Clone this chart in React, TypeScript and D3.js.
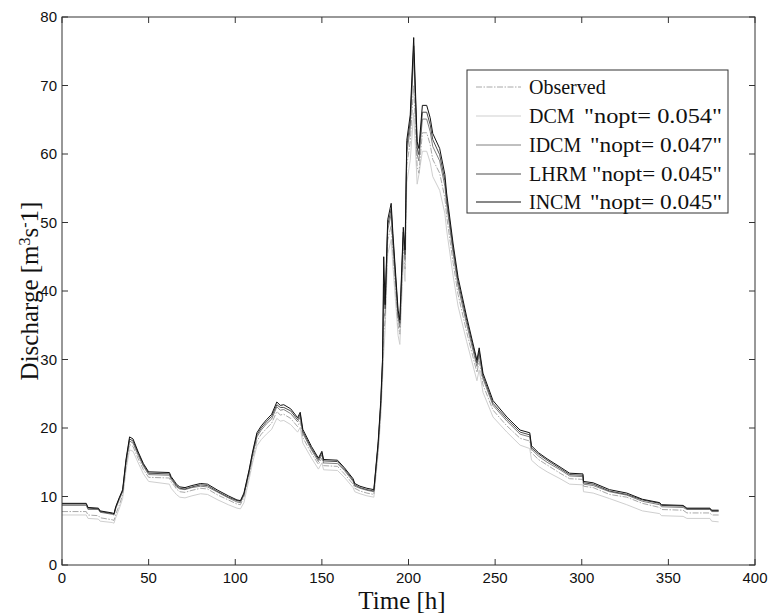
import React from "react";
import * as d3 from "d3";

const hours = [0,14,15,21,22,29,30,31,33,35,37,39,41,44,47,50,62,63,65,66,68,71,75,80,84,90,96,101,103,105,108,110,112.5,115,118,121,124,126,128,132,136,137.5,139,144,148,150,151,159,163,168,169,172,176,180,182.5,184,185,185.7,186.5,188,190,191,194,195,197,198,199,201,203,205,206,208,210.5,212.5,214,218,221,222,225.7,228.6,233.6,239.5,240.8,243,248.8,256.8,264.4,270,271,275,280,287.5,293,300.7,301,306.6,316,326,335,345,346,358.5,360.7,374,375,379];

const incm = [9.0,9.0,8.4,8.3,7.9,7.6,7.5,8.5,9.8,11.0,15.5,18.7,18.4,16.5,14.8,13.6,13.5,12.9,12.2,11.8,11.4,11.3,11.6,11.9,11.8,10.9,10.1,9.5,9.4,10.5,13.9,16.5,19.3,20.3,21.2,22.0,23.8,23.3,23.4,22.8,21.5,22.3,19.8,17.3,15.6,16.6,15.4,15.3,14.2,12.6,11.9,11.5,11.2,11.0,18.0,24.0,30.0,45.0,38.0,50.4,52.8,48.4,37.2,35.8,49.3,46.0,62.0,65.7,77.0,61.8,60.8,67.1,67.1,65.3,63.0,60.8,57.0,54.3,47.0,42.0,36.2,29.9,31.7,28.0,24.0,21.6,19.7,19.3,17.4,16.4,15.5,14.3,13.4,13.3,12.2,12.0,11.0,10.5,9.6,9.1,8.8,8.7,8.3,8.3,8.0,8.0];

const lhrm = [8.9,8.9,8.3,8.2,7.8,7.5,7.4,8.4,9.7,10.8,15.3,18.4,18.1,16.3,14.6,13.4,13.3,12.7,12.0,11.6,11.2,11.1,11.4,11.7,11.6,10.7,9.9,9.4,9.3,10.3,13.7,16.3,19.0,20.0,20.9,21.7,23.4,23.0,23.0,22.5,21.2,22.0,19.5,17.0,15.4,16.4,15.2,15.1,14.0,12.4,11.7,11.3,11.0,10.8,17.7,23.6,29.6,41.0,37.4,49.6,52.0,47.7,36.6,35.3,48.6,45.3,61.1,64.7,75.8,60.9,59.9,66.1,66.1,64.3,62.1,59.9,56.1,53.5,46.3,41.4,35.7,29.5,31.2,27.6,23.6,21.3,19.4,19.0,17.1,16.2,15.3,14.1,13.2,13.1,12.0,11.8,10.8,10.3,9.5,9.0,8.7,8.6,8.2,8.2,7.9,7.9];

const idcm = [8.7,8.7,8.1,8.1,7.7,7.4,7.3,8.2,9.5,10.7,15.0,18.1,17.8,16.0,14.4,13.2,13.1,12.5,11.8,11.4,11.1,11.0,11.3,11.5,11.4,10.6,9.8,9.2,9.1,10.2,13.5,16.0,18.7,19.7,20.6,21.3,23.1,22.6,22.7,22.1,20.9,21.6,19.2,16.8,15.1,16.1,14.9,14.8,13.8,12.2,11.5,11.2,10.9,10.7,17.5,23.3,29.1,36.0,36.9,48.9,51.2,46.9,36.1,34.7,47.8,44.6,60.1,63.7,74.7,59.9,59.0,65.1,65.1,63.3,61.1,59.0,55.3,52.7,45.6,40.7,35.1,29.0,30.7,27.2,23.3,21.0,19.1,18.7,16.9,15.9,15.0,13.9,13.0,12.9,11.8,11.6,10.7,10.2,9.3,8.8,8.5,8.4,8.1,8.1,7.8,7.8];

const observed = [7.8,7.8,7.3,7.2,6.9,6.6,6.5,7.4,8.7,10.2,14.6,17.6,17.3,15.5,13.9,12.8,12.7,12.1,11.5,11.1,10.7,10.6,10.9,11.2,11.1,10.2,9.5,8.9,8.8,9.9,13.1,15.5,18.1,19.1,19.9,20.7,22.4,21.9,22.0,21.4,20.2,21.0,18.6,16.3,14.7,15.6,14.5,14.4,13.3,11.8,11.2,10.8,10.5,10.3,16.9,22.6,28.2,34.0,35.7,47.4,49.6,45.5,35.0,33.7,46.3,43.2,58.3,61.8,70.0,58.1,57.2,63.1,63.1,61.4,59.2,57.2,53.6,51.0,44.2,39.5,34.0,28.1,29.8,26.3,22.6,20.3,18.5,18.1,16.4,15.4,14.6,13.4,12.6,12.5,11.5,11.3,10.3,9.9,9.0,8.4,8.1,8.0,7.6,7.6,7.3,7.3];

const dcm = [7.3,7.3,6.8,6.7,6.4,6.2,6.1,6.9,8.2,9.7,13.9,16.8,16.6,14.9,13.3,12.2,11.8,11.2,10.6,10.3,9.9,9.8,10.1,10.4,10.3,9.5,8.8,8.3,8.2,9.1,12.5,14.9,17.4,18.3,19.1,19.8,21.4,21.0,21.1,20.5,19.4,20.1,17.8,15.6,14.0,14.9,13.9,13.8,12.8,11.3,10.7,10.4,10.1,9.9,16.2,21.6,27.0,31.0,34.2,45.4,47.5,43.6,33.5,32.2,44.4,41.4,55.8,59.1,66.0,55.6,57.0,60.4,60.4,58.8,56.7,54.7,51.3,48.9,42.3,37.8,32.6,26.9,28.5,25.2,21.6,19.4,17.5,17.0,15.3,14.4,13.6,12.6,11.8,11.7,10.7,10.5,9.7,8.8,7.9,7.5,7.2,7.1,6.8,6.8,6.4,6.3];

const seriesNames = ["Observed", "DCM", "IDCM", "LHRM", "INCM"];
const noptLabels = ["", "\"nopt= 0.054\"", "\"nopt= 0.047\"", "\"nopt= 0.045\"", "\"nopt= 0.045\""];
const xTicks = [0, 50, 100, 150, 200, 250, 300, 350, 400];
const yTicks = [0, 10, 20, 30, 40, 50, 60, 70, 80];

const styles: Record<string, { stroke: string; dash?: string; width: number }> = {
  Observed: { stroke: "#a8a8a8", dash: "6,1.5,1.5,1.5", width: 1 },
  DCM: { stroke: "#cfcfcf", width: 1 },
  IDCM: { stroke: "#808080", width: 1 },
  LHRM: { stroke: "#4a4a4a", width: 1 },
  INCM: { stroke: "#111111", width: 1 },
};

export default function App() {
  const W = 768, H = 614;
  const left = 62, right = 755, top = 17, bottom = 565;
  const x = d3.scaleLinear().domain([0, 400]).range([left, right]);
  const y = d3.scaleLinear().domain([0, 80]).range([bottom, top]);
  const dataMap: Record<string, number[]> = { Observed: observed, DCM: dcm, IDCM: idcm, LHRM: lhrm, INCM: incm };
  const line = d3.line<[number, number]>().x((d) => x(d[0])).y((d) => y(d[1])).curve(d3.curveLinear);
  const drawOrder = ["DCM", "Observed", "IDCM", "LHRM", "INCM"];
  const axisColor = "#333";
  const tickFont = "'Liberation Sans', Arial, sans-serif";
  const serif = "'Liberation Serif', 'Times New Roman', serif";
  const legX = 467, legY = 70, legW = 261, legH = 143;
  const rowY = [87, 116, 145, 174, 202];
  const quoteX = [0, 584, 590, 592, 590];

  return (
    <svg width={W} height={H} style={{ position: "absolute", left: 0, top: 0, background: "#fff" }}>
      <rect x={0} y={0} width={W} height={H} fill="#fff" />
      {drawOrder.map((name) => {
        const vals = dataMap[name];
        const pts = hours.map((h, i) => [h, vals[i]] as [number, number]);
        const s = styles[name];
        return (
          <path key={name} d={line(pts) || ""} fill="none" stroke={s.stroke} strokeWidth={s.width}
            strokeDasharray={s.dash} strokeLinejoin="round" />
        );
      })}
      <rect x={left} y={top} width={right - left} height={bottom - top} fill="none" stroke={axisColor} strokeWidth={1} />
      {xTicks.map((t) => (
        <g key={"x" + t}>
          <line x1={x(t)} x2={x(t)} y1={bottom} y2={bottom - 6} stroke={axisColor} />
          <line x1={x(t)} x2={x(t)} y1={top} y2={top + 6} stroke={axisColor} />
          <text x={x(t)} y={bottom + 18} textAnchor="middle" fontFamily={tickFont} fontSize={15} fill="#111">{t}</text>
        </g>
      ))}
      {yTicks.map((t) => (
        <g key={"y" + t}>
          <line x1={left} x2={left + 6} y1={y(t)} y2={y(t)} stroke={axisColor} />
          <line x1={right} x2={right - 6} y1={y(t)} y2={y(t)} stroke={axisColor} />
          <text x={left - 5} y={y(t) + 5} textAnchor="end" fontFamily={tickFont} fontSize={15} fill="#111">{t}</text>
        </g>
      ))}
      <text x={402} y={609} textAnchor="middle" fontFamily={serif} fontSize={25} fill="#111">Time [h]</text>
      <text transform={`translate(38,291) rotate(-90)`} textAnchor="middle" fontFamily={serif} fontSize={25} fill="#111">
        Discharge [m<tspan baselineShift="super" fontSize={16}>3</tspan>s<tspan baselineShift="super" fontSize={16}>-</tspan>1]
      </text>
      <rect x={legX} y={legY} width={legW} height={legH} fill="#fff" stroke={axisColor} strokeWidth={1} />
      {seriesNames.map((name, i) => {
        const s = styles[name];
        return (
          <g key={"leg" + name}>
            <line x1={476} x2={521} y1={rowY[i]} y2={rowY[i]} stroke={s.stroke} strokeWidth={s.width} strokeDasharray={s.dash} />
            <text x={529} y={rowY[i] + 7} fontFamily={serif} fontSize={20} fill="#111">{name}</text>
            {noptLabels[i] && (
              <text x={quoteX[i]} y={rowY[i] + 7} fontFamily={serif} fontSize={21} fill="#111"
                textLength={722 - quoteX[i]} lengthAdjust="spacingAndGlyphs">{noptLabels[i]}</text>
            )}
          </g>
        );
      })}
    </svg>
  );
}
